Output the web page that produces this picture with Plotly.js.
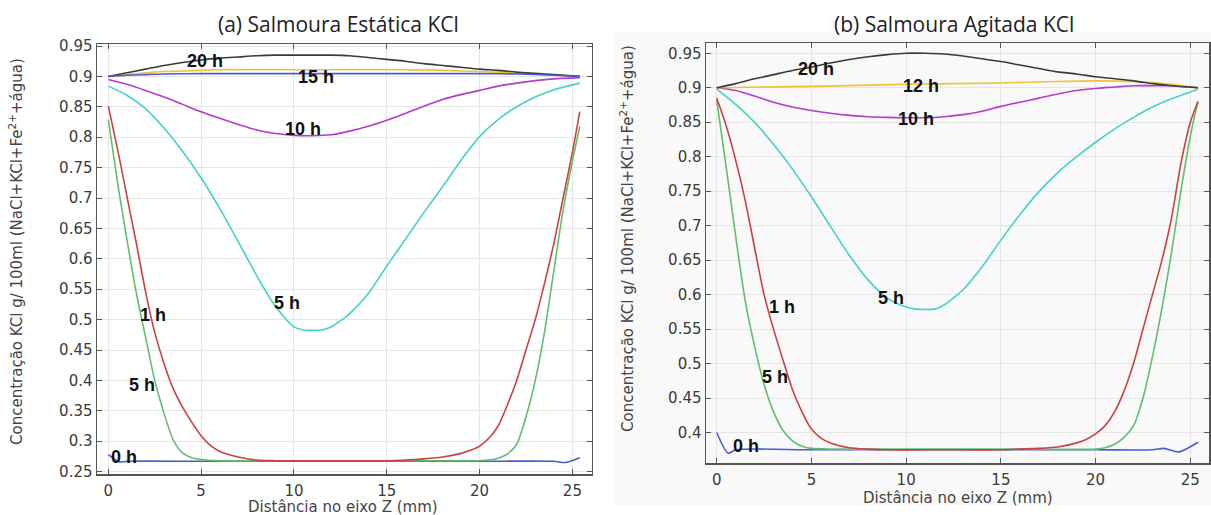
<!DOCTYPE html>
<html>
<head>
<meta charset="utf-8">
<script src="https://cdn.plot.ly/plotly-3.0.1.min.js"></script>
<style>html,body{margin:0;padding:0;background:#fff;}#chart{width:1211px;height:515px;}</style>
</head>
<body>
<div id="chart"></div>
<script>
// ---------- Data: (a) Salmoura Estática KCl ----------
const a_black_x = [0,1,2,3,4,5,6,7,8,9,10,11,12,13,14,15,16,17,18,19,20,21,22,23,24,25.4];
const a_black_y = [0.9,0.906,0.912,0.918,0.923,0.927,0.930,0.932,0.934,0.935,0.935,0.935,0.935,0.934,0.931,0.928,0.925,0.921,0.918,0.915,0.912,0.910,0.907,0.905,0.903,0.9];

const a_yellow_x = [0,1,2,3,4,5,6,8,10,12,14,16,17,18,19,20,21,22,23,24,25.4];
const a_yellow_y = [0.9,0.903,0.906,0.908,0.909,0.910,0.911,0.911,0.911,0.911,0.911,0.911,0.9105,0.910,0.909,0.908,0.907,0.905,0.904,0.902,0.9];

const a_blue2_x = [0,1,2,3,5,10,15,20,22,24,25.4];
const a_blue2_y = [0.9,0.902,0.903,0.904,0.9045,0.9045,0.9045,0.9045,0.904,0.902,0.9];

const a_mag_x = [0,1,2,3,4,5,6,7,8,9,10,11,12,13,14,15,16,17,18,19,20,21,22,23,24,25.4];
const a_mag_y = [0.895,0.887,0.877,0.866,0.854,0.842,0.831,0.821,0.812,0.806,0.803,0.8025,0.804,0.810,0.818,0.828,0.839,0.851,0.862,0.870,0.877,0.884,0.889,0.893,0.896,0.898];

const a_cyan_x = [0,1,2,3,4,5,6,7,8,9,10,10.5,11.5,12,13,14,15,16,17,18,19,20,21,22,23,24,25.4];
const a_cyan_y = [0.884,0.869,0.847,0.815,0.777,0.733,0.683,0.628,0.572,0.522,0.488,0.483,0.483,0.488,0.510,0.543,0.588,0.632,0.676,0.718,0.762,0.801,0.829,0.850,0.866,0.878,0.889];

const a_red_x = [0,0.5,1,1.5,2,2.5,3,3.5,4,4.5,5,5.5,6,7,8,9,12,15,16,17,18,19,19.5,20,20.5,21,21.5,22,22.5,23,23.5,24,24.5,25,25.4];
const a_red_y = [0.851,0.78,0.703,0.627,0.547,0.479,0.428,0.386,0.356,0.331,0.309,0.293,0.283,0.274,0.269,0.268,0.268,0.268,0.269,0.271,0.274,0.280,0.285,0.292,0.305,0.325,0.36,0.40,0.45,0.50,0.56,0.625,0.70,0.775,0.842];

const a_green_x = [0,0.5,1,1.5,2,2.5,3,3.5,4,4.5,5,6,10,15,20,20.5,21,21.5,22,22.5,23,23.5,24,24.5,25,25.4];
const a_green_y = [0.829,0.725,0.632,0.545,0.472,0.40,0.346,0.302,0.281,0.273,0.27,0.268,0.268,0.268,0.268,0.269,0.272,0.279,0.295,0.34,0.40,0.48,0.58,0.68,0.76,0.818];

const a_blue_x = [0,0.6,1,5,10,15,20,24,24.6,25.4];
const a_blue_y = [0.278,0.266,0.267,0.267,0.267,0.267,0.267,0.267,0.265,0.273];

// ---------- Data: (b) Salmoura Agitada KCl ----------
const b_black_x = [0,1,2,3,4,5,6,7,8,9,10,11,12,13,14,15,16,17,18,19,20,21,22,23,24,25.4];
const b_black_y = [0.9,0.906,0.913,0.919,0.925,0.930,0.936,0.941,0.945,0.948,0.950,0.950,0.949,0.946,0.942,0.938,0.933,0.928,0.923,0.920,0.916,0.913,0.910,0.906,0.903,0.9];

const b_yellow_x = [0,5,10,15,18,20,22,24,25.4];
const b_yellow_y = [0.9,0.902,0.905,0.907,0.909,0.910,0.909,0.905,0.9];

const b_mag_x = [0,1,2,3,4,5,6,7,8,9,10,11,12,13,14,15,16,17,18,19,20,21,22,23,24,25.4];
const b_mag_y = [0.9,0.896,0.888,0.879,0.872,0.867,0.863,0.860,0.858,0.857,0.8565,0.8565,0.858,0.861,0.866,0.873,0.879,0.885,0.891,0.896,0.899,0.901,0.903,0.903,0.903,0.9];

const b_cyan_x = [0,1,2,3,4,5,6,7,8,9,10,10.5,11.5,12,13,14,15,16,17,18,19,20,21,22,23,24,25.4];
const b_cyan_y = [0.898,0.876,0.850,0.818,0.782,0.742,0.699,0.657,0.621,0.595,0.582,0.579,0.579,0.585,0.607,0.640,0.679,0.716,0.749,0.777,0.800,0.821,0.840,0.857,0.872,0.884,0.898];

const b_red_x = [0,0.5,1,1.5,2,2.5,3,3.5,4,4.5,5,5.5,6,7,8,9,12,15,16,17,18,19,19.5,20,20.5,21,21.5,22,22.5,23,23.5,24,24.5,25,25.4];
const b_red_y = [0.885,0.845,0.795,0.737,0.668,0.60,0.55,0.505,0.462,0.43,0.405,0.392,0.385,0.378,0.376,0.375,0.375,0.375,0.376,0.377,0.379,0.385,0.39,0.398,0.41,0.43,0.46,0.50,0.55,0.60,0.65,0.71,0.79,0.85,0.88];

const b_green_x = [0,0.5,1,1.5,2,2.5,3,3.5,4,4.5,5,6,10,15,20,20.5,21,21.5,22,22.5,23,23.5,24,24.5,25,25.4];
const b_green_y = [0.882,0.785,0.685,0.592,0.525,0.47,0.43,0.403,0.388,0.38,0.377,0.376,0.376,0.376,0.376,0.378,0.383,0.393,0.41,0.45,0.51,0.58,0.66,0.75,0.83,0.88];

const b_blue_x = [0,0.6,1,5,10,15,20,23,23.6,24.4,25.4];
const b_blue_y = [0.400,0.370,0.375,0.375,0.375,0.375,0.375,0.375,0.377,0.372,0.386];

// ---------- Tick labels ----------
const xTickVals = [0,5,10,15,20,25];
const xTickText = ['0','5','10','15','20','25'];
const aYTickVals = [0.25,0.3,0.35,0.4,0.45,0.5,0.55,0.6,0.65,0.7,0.75,0.8,0.85,0.9,0.95];
const aYTickText = ['0.25','0.3','0.35','0.4','0.45','0.5','0.55','0.6','0.65','0.7','0.75','0.8','0.85','0.9','0.95'];
const bYTickVals = [0.4,0.45,0.5,0.55,0.6,0.65,0.7,0.75,0.8,0.85,0.9,0.95];
const bYTickText = ['0.4','0.45','0.5','0.55','0.6','0.65','0.7','0.75','0.8','0.85','0.9','0.95'];

// ---------- Curve labels ----------
const aLabels = [
  {t:'20 h', x:5.2, y:0.926},
  {t:'15 h', x:11.2, y:0.8995},
  {t:'10 h', x:10.47, y:0.813},
  {t:'5 h', x:9.65, y:0.528},
  {t:'1 h', x:2.43, y:0.5076},
  {t:'5 h', x:1.8, y:0.392},
  {t:'0 h', x:0.86, y:0.2745}
];
const bLabels = [
  {t:'20 h', x:5.23, y:0.9268},
  {t:'12 h', x:10.78, y:0.9026},
  {t:'10 h', x:10.5, y:0.8543},
  {t:'5 h', x:9.22, y:0.5958},
  {t:'1 h', x:3.43, y:0.582},
  {t:'5 h', x:3.08, y:0.4804},
  {t:'0 h', x:1.53, y:0.3799}
];

const C = {
  blue:'#4a5bd6', green:'#62be6c', red:'#cc4040', cyan:'#44d2c8',
  mag:'#b43ccb', yellow:'#f0c234', black:'#3a3a3a'
};

function tr(x, y, color, xa, ya) {
  return {x:x, y:y, type:'scatter', mode:'lines', line:{color:color, width:1.6, shape:'spline', smoothing:0.7},
          xaxis:xa, yaxis:ya, hoverinfo:'skip', showlegend:false};
}

const data = [
  tr(a_blue_x, a_blue_y, C.blue, 'x', 'y'),
  tr(a_green_x, a_green_y, C.green, 'x', 'y'),
  tr(a_red_x, a_red_y, C.red, 'x', 'y'),
  tr(a_cyan_x, a_cyan_y, C.cyan, 'x', 'y'),
  tr(a_mag_x, a_mag_y, C.mag, 'x', 'y'),
  tr(a_yellow_x, a_yellow_y, C.yellow, 'x', 'y'),
  tr(a_black_x, a_black_y, C.black, 'x', 'y'),
  tr(a_blue2_x, a_blue2_y, C.blue, 'x', 'y'),
  tr(b_blue_x, b_blue_y, C.blue, 'x2', 'y2'),
  tr(b_green_x, b_green_y, C.green, 'x2', 'y2'),
  tr(b_red_x, b_red_y, C.red, 'x2', 'y2'),
  tr(b_cyan_x, b_cyan_y, C.cyan, 'x2', 'y2'),
  tr(b_mag_x, b_mag_y, C.mag, 'x2', 'y2'),
  tr(b_yellow_x, b_yellow_y, C.yellow, 'x2', 'y2'),
  tr(b_black_x, b_black_y, C.black, 'x2', 'y2')
];

const W = 1211, H = 515;
const tickFont = {family:'DejaVu Sans', size:15, color:'#3a3a3a'};
function axX(dom, range, anchor) {
  return {domain:dom, range:range, anchor:anchor, tickmode:'array', tickvals:xTickVals, ticktext:xTickText,
    ticks:'inside', ticklen:5, tickcolor:'#555', showline:true, linecolor:'#555', linewidth:1.5, mirror:'ticks',
    showgrid:true, gridcolor:'#e6e6e6', gridwidth:1, zeroline:false, tickfont:tickFont, ticklabelstandoff:2, fixedrange:true};
}
function axY(dom, range, anchor, vals, txt) {
  return {domain:dom, range:range, anchor:anchor, tickmode:'array', tickvals:vals, ticktext:txt,
    ticks:'inside', ticklen:5, tickcolor:'#555', showline:true, linecolor:'#555', linewidth:1.5, mirror:'ticks',
    showgrid:true, gridcolor:'#e6e6e6', gridwidth:1, zeroline:false, tickfont:tickFont, fixedrange:true};
}

const ann = [];
function px(x){return x/W;}
function py(y){return 1 - y/H;}
const titleFont = {family:'Open Sans', size:21, color:'#222'};
const axTitleFont = {family:'DejaVu Sans', size:15, color:'#444'};
ann.push({text:'(a) Salmoura Estática KCl', xref:'paper', yref:'paper', x:px(338), y:py(24), showarrow:false,
  xanchor:'center', yanchor:'middle', font:titleFont});
ann.push({text:'(b) Salmoura Agitada KCl', xref:'paper', yref:'paper', x:px(954), y:py(24), showarrow:false,
  xanchor:'center', yanchor:'middle', font:titleFont});
const yTitle = 'Concentração KCl g/ 100ml (NaCl+KCl+Fe<sup>2+</sup>+água)';
ann.push({text:yTitle, xref:'paper', yref:'paper', x:px(15.5), y:py(251.5), showarrow:false, textangle:-90,
  xanchor:'center', yanchor:'middle', font:axTitleFont});
ann.push({text:yTitle, xref:'paper', yref:'paper', x:px(627), y:py(239), showarrow:false, textangle:-90,
  xanchor:'center', yanchor:'middle', font:axTitleFont});
ann.push({text:'Distância no eixo Z (mm)', xref:'paper', yref:'paper', x:px(343), y:py(507), showarrow:false,
  xanchor:'center', yanchor:'middle', font:axTitleFont});
ann.push({text:'Distância no eixo Z (mm)', xref:'paper', yref:'paper', x:px(958), y:py(498), showarrow:false,
  xanchor:'center', yanchor:'middle', font:axTitleFont});
const lblFont = {family:'Liberation Sans', size:18, color:'#111'};
aLabels.forEach(l => ann.push({text:'<b>'+l.t+'</b>', xref:'x', yref:'y', x:l.x, y:l.y, showarrow:false,
  xanchor:'center', yanchor:'middle', font:lblFont}));
bLabels.forEach(l => ann.push({text:'<b>'+l.t+'</b>', xref:'x2', yref:'y2', x:l.x, y:l.y, showarrow:false,
  xanchor:'center', yanchor:'middle', font:lblFont}));

const layout = {
  width:W, height:H, margin:{l:0, r:0, t:0, b:0}, paper_bgcolor:'#ffffff', plot_bgcolor:'#ffffff',
  showlegend:false,
  xaxis: axX([97/W, 591.5/W], [-0.61, 26.03], 'y'),
  yaxis: axY([py(474), py(44)], [0.2461, 0.9533], 'x', aYTickVals, aYTickText),
  xaxis2: axX([706/W, 1209.3/W], [-0.565, 26.0], 'y2'),
  yaxis2: axY([py(463.3), py(43)], [0.3554, 0.9649], 'x2', bYTickVals, bYTickText),
  shapes:[{type:'rect', xref:'paper', yref:'paper', x0:px(615), x1:1, y0:py(506), y1:py(32),
    fillcolor:'#f9f9f9', line:{width:0}, layer:'below'}],
  annotations: ann
};

Plotly.newPlot('chart', data, layout, {staticPlot:true, displayModeBar:false});
</script>
</body>
</html>
